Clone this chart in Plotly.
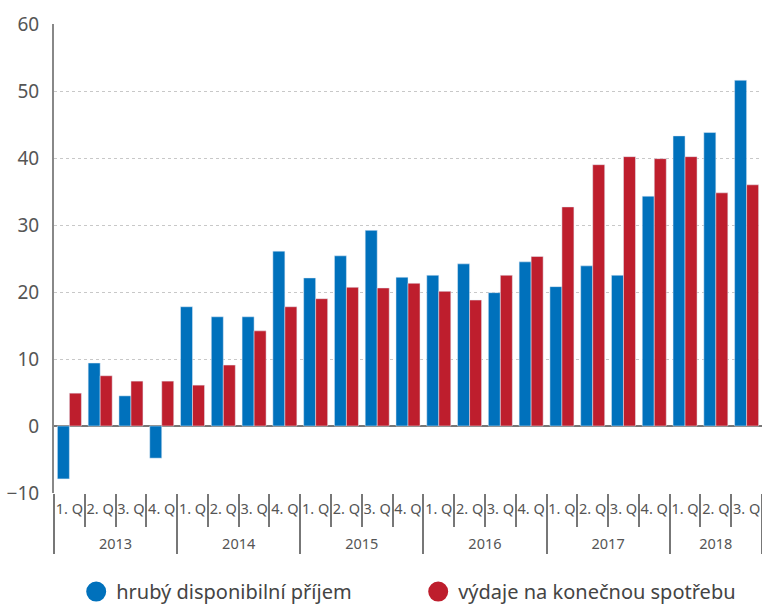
import plotly.graph_objects as go

years = ["2013"] * 4 + ["2014"] * 4 + ["2015"] * 4 + ["2016"] * 4 + ["2017"] * 4 + ["2018"] * 3
quarters = ["1. Q", "2. Q", "3. Q", "4. Q"] * 5 + ["1. Q", "2. Q", "3. Q"]

# hrubý disponibilní příjem
income = [-7.9, 9.4, 4.5, -4.8, 17.8, 16.3, 16.3, 26.1, 22.1, 25.4, 29.2, 22.2,
          22.5, 24.2, 19.9, 24.5, 20.8, 23.9, 22.5, 34.3, 43.3, 43.8, 51.6]
# výdaje na konečnou spotřebu
spending = [4.9, 7.5, 6.7, 6.7, 6.1, 9.1, 14.2, 17.8, 19.0, 20.7, 20.6, 21.3,
            20.1, 18.8, 22.5, 25.3, 32.7, 39.0, 40.2, 39.9, 40.2, 34.8, 36.0]

names = ["hrubý disponibilní příjem", "výdaje na konečnou spotřebu"]
colors = ["#0071bc", "#be1e2d"]
yrange = [-10, 60]

# empty first line pushes the year row below the quarter separators
year_labels = ["<br>" + y for y in years]

fig = go.Figure()
for vals, name, col in zip([income, spending], names, colors):
    fig.add_trace(go.Bar(x=[year_labels, quarters], y=vals, name=name,
                         marker_color=col, showlegend=False))
# legend entries with round markers
for name, col in zip(names, colors):
    fig.add_trace(go.Scatter(x=[None], y=[None], mode="markers", name=name,
                             marker=dict(color=col, size=16, symbol="circle",
                                         line=dict(color=col, width=4))))

fig.update_layout(
    width=762, height=608,
    margin=dict(l=54, r=0, t=24, b=115),
    paper_bgcolor="white", plot_bgcolor="white",
    font=dict(family="Noto Sans", color="#555555"),
    barmode="group", bargap=0.22, bargroupgap=0,
    legend=dict(orientation="h", xref="container", yref="container",
                x=0.1, xanchor="left", y=0.027, yanchor="middle",
                font=dict(size=20, color="#444444"), entrywidth=297,
                itemsizing="trace"),
    xaxis=dict(type="multicategory", showgrid=False, showline=False,
               automargin=False, tickangle=0,
               ticks="outside", tickson="boundaries", ticklen=33,
               tickcolor="#777777", tickwidth=1.5, ticklabelstandoff=5,
               showdividers=True, dividercolor="#777777", dividerwidth=1.5,
               tickfont=dict(size=14.5, color="#555555")),
    xaxis2=dict(overlaying="x", anchor="free",
                position=(0 - yrange[0]) / (yrange[1] - yrange[0]),
                range=[-0.5, len(years) - 0.5], tick0=-0.5, dtick=1,
                ticks="outside", ticklen=4, tickcolor="#777777", tickwidth=1.5,
                showticklabels=False, showgrid=False, showline=True,
                linecolor="#777777", linewidth=2),
    yaxis=dict(range=yrange, dtick=10, showgrid=True, gridcolor="#c8c8c8",
               griddash="dot", gridwidth=1.2, zeroline=True,
               zerolinecolor="#777777", zerolinewidth=2,
               showline=True, linecolor="#888888", linewidth=2,
               ticks="", ticklabelstandoff=9, automargin=False,
               tickfont=dict(size=19, color="#555555")),
)

fig.write_html("out.html", config={"displayModeBar": False},
               post_script="document.body.style.margin = '0';")
